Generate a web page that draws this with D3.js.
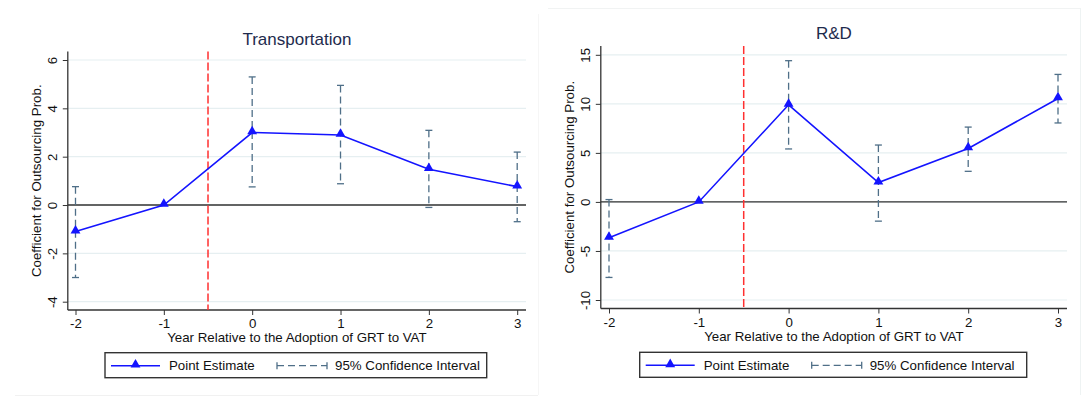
<!DOCTYPE html>
<html>
<head>
<meta charset="utf-8">
<script src="https://cdn.jsdelivr.net/npm/d3@7"></script>
<style>
  html, body { margin: 0; padding: 0; background: #fff; }
  svg { display: block; font-family: "Liberation Sans", Arial, sans-serif; }
</style>
</head>
<body>
<svg id="chart" width="1084" height="402"></svg>
<script>
// Event-study coefficients by year relative to the GRT-to-VAT adoption
const years = [-2, -1, 0, 1, 2, 3];

const transEstimate = [-1.1, 0, 3.0, 2.9, 1.48, 0.76];
const transLower    = [-3.0, null, 0.75, 0.88, -0.1, -0.69];
const transUpper    = [0.76, null, 5.3, 4.95, 3.09, 2.19];
const transTicks    = [-4, -2, 0, 2, 4, 6];

const rdEstimate = [-3.66, 0, 9.9, 1.97, 5.45, 10.55];
const rdLower    = [-7.7, null, 5.4, -1.96, 3.12, 8.05];
const rdUpper    = [0.24, null, 14.4, 5.8, 7.63, 13.0];
const rdTicks    = [-10, -5, 0, 5, 10, 15];

const xTitle = "Year Relative to the Adoption of GRT to VAT";
const yTitle = "Coefficient for Outsourcing Prob.";
const legendLabels = ["Point Estimate", "95% Confidence Interval"];

const svg = d3.select("#chart");

const COL_LINE = "#1414ff";
const COL_CI = "#4f6f88";
const COL_GRID = "#e6eff1";
const COL_AXIS = "#333";
const plain = d => String(d);

// faint outer frames of the two graph regions
svg.append("line").attr("x1", 15).attr("x2", 538).attr("y1", 395.5).attr("y2", 395.5)
  .attr("stroke", "#f1f1f1").attr("stroke-width", 1);
svg.append("line").attr("x1", 548).attr("x2", 1080).attr("y1", 8.5).attr("y2", 8.5)
  .attr("stroke", "#f1f3f3").attr("stroke-width", 1);
svg.append("line").attr("x1", 538.5).attr("x2", 538.5).attr("y1", 14).attr("y2", 395)
  .attr("stroke", "#f6f6f6").attr("stroke-width", 1);
svg.append("line").attr("x1", 1080.5).attr("x2", 1080.5).attr("y1", 8).attr("y2", 395)
  .attr("stroke", "#eef3f3").attr("stroke-width", 1);

function drawPanel(cfg) {
  const g = svg.append("g");
  const x = d3.scaleLinear().domain([-2, 3]).range([cfg.xl, cfg.xr]);
  const y = d3.scaleLinear().domain([cfg.ticks[0], cfg.ticks[cfg.ticks.length - 1]])
    .range([cfg.yb, cfg.yt]);
  const midX = (cfg.axisX + cfg.right) / 2;

  // horizontal gridlines
  g.selectAll(".grid").data(cfg.ticks).enter().append("line")
    .attr("x1", cfg.axisX).attr("x2", cfg.right)
    .attr("y1", d => y(d)).attr("y2", d => y(d))
    .attr("stroke", COL_GRID).attr("stroke-width", 1.2);

  // y axis
  const yAxis = d3.axisLeft(y).tickValues(cfg.ticks).tickFormat(plain).tickSize(5).tickPadding(4);
  const ya = g.append("g").attr("transform", `translate(${cfg.axisX},0)`).call(yAxis);
  ya.select(".domain").attr("d", `M0,${cfg.bottom}V${cfg.top}`).attr("stroke", COL_AXIS).attr("stroke-width", 1.3);
  ya.selectAll(".tick line").attr("stroke", COL_AXIS);
  ya.selectAll(".tick text")
    .attr("font-size", 13.3).attr("fill", "#111")
    .attr("text-anchor", "middle").attr("dy", 0)
    .attr("transform", "translate(-15,0) rotate(-90)")
    .attr("x", 0).attr("y", 0)
    .attr("dominant-baseline", "central");

  // x axis
  const xAxis = d3.axisBottom(x).tickValues(years).tickFormat(plain).tickSize(5).tickPadding(4);
  const xa = g.append("g").attr("transform", `translate(0,${cfg.bottom})`).call(xAxis);
  xa.select(".domain").attr("d", `M${cfg.axisX},0H${cfg.right}`).attr("stroke", COL_AXIS).attr("stroke-width", 1.3);
  xa.selectAll(".tick line").attr("stroke", COL_AXIS);
  xa.selectAll(".tick text").attr("font-size", 13.3).attr("fill", "#111");

  // zero reference line
  g.append("line").attr("x1", cfg.axisX).attr("x2", cfg.right)
    .attr("y1", y(0)).attr("y2", y(0))
    .attr("stroke", "#333").attr("stroke-width", 1.3);

  // adoption marker between years -1 and 0
  g.append("line").attr("x1", x(-0.5)).attr("x2", x(-0.5))
    .attr("y1", cfg.top).attr("y2", cfg.bottom)
    .attr("stroke", "#ff3030").attr("stroke-width", 1.5)
    .attr("stroke-dasharray", "8,3");

  // confidence intervals
  const ci = years.map((yr, i) => ({ yr, lo: cfg.lower[i], hi: cfg.upper[i] }))
    .filter(d => d.lo !== null);
  g.selectAll(".ci").data(ci).enter().append("line")
    .attr("x1", d => x(d.yr)).attr("x2", d => x(d.yr))
    .attr("y1", d => y(d.hi)).attr("y2", d => y(d.lo))
    .attr("stroke", COL_CI).attr("stroke-width", 1.3)
    .attr("stroke-dasharray", "7,4");
  ["lo", "hi"].forEach(k => {
    g.selectAll(".cap" + k).data(ci).enter().append("line")
      .attr("x1", d => x(d.yr) - 3.5).attr("x2", d => x(d.yr) + 3.5)
      .attr("y1", d => y(d[k])).attr("y2", d => y(d[k]))
      .attr("stroke", COL_CI).attr("stroke-width", 1.3);
  });

  // point estimates
  const pts = years.map((yr, i) => ({ yr, v: cfg.est[i] }));
  g.append("path").datum(pts)
    .attr("d", d3.line().x(d => x(d.yr)).y(d => y(d.v)))
    .attr("fill", "none").attr("stroke", COL_LINE).attr("stroke-width", 1.6);
  const tri = d3.symbol().type(d3.symbolTriangle).size(42);
  g.selectAll(".mk").data(pts).enter().append("path")
    .attr("d", tri)
    .attr("transform", d => `translate(${x(d.yr)},${y(d.v) - 1})`)
    .attr("fill", COL_LINE);

  // titles
  g.append("text").attr("x", midX).attr("y", cfg.titleY)
    .attr("text-anchor", "middle").attr("font-size", 17).attr("fill", "#1e2b4d")
    .text(cfg.title);
  g.append("text").attr("x", midX).attr("y", cfg.bottom + 32)
    .attr("text-anchor", "middle").attr("font-size", 13.3).attr("fill", "#111")
    .text(xTitle);
  g.append("text")
    .attr("transform", `translate(${cfg.yTitleX},${(cfg.top + cfg.bottom) / 2}) rotate(-90)`)
    .attr("text-anchor", "middle").attr("font-size", 13.3).attr("fill", "#111")
    .text(yTitle);

  // legend
  const L = cfg.legend;
  g.append("rect").attr("x", L.x).attr("y", L.y).attr("width", L.w).attr("height", 25)
    .attr("fill", "#fff").attr("stroke", "#333").attr("stroke-width", 1.4);
  const ly = L.y + 13;
  g.append("line").attr("x1", L.x + 6).attr("x2", L.x + 55).attr("y1", ly).attr("y2", ly)
    .attr("stroke", COL_LINE).attr("stroke-width", 1.6);
  g.append("path").attr("d", tri).attr("transform", `translate(${L.x + 30.5},${ly - 1})`)
    .attr("fill", COL_LINE);
  g.append("text").attr("x", L.x + 64).attr("y", ly + 4.5).attr("font-size", 13.3).attr("fill", "#111")
    .text(legendLabels[0]);
  const cx0 = L.x + 172, cx1 = L.x + 222;
  g.append("line").attr("x1", cx0).attr("x2", cx1).attr("y1", ly).attr("y2", ly)
    .attr("stroke", COL_CI).attr("stroke-width", 1.3).attr("stroke-dasharray", "7,4");
  [cx0, cx1].forEach(cx => g.append("line").attr("x1", cx).attr("x2", cx)
    .attr("y1", ly - 3.5).attr("y2", ly + 3.5).attr("stroke", COL_CI).attr("stroke-width", 1.3));
  g.append("text").attr("x", cx1 + 8).attr("y", ly + 4.5).attr("font-size", 13.3).attr("fill", "#111")
    .text(legendLabels[1]);
}

drawPanel({
  title: "Transportation", titleY: 45,
  est: transEstimate, lower: transLower, upper: transUpper, ticks: transTicks,
  xl: 75.5, xr: 517.2, yb: 301.7, yt: 60,
  axisX: 67.8, right: 526, top: 51.5, bottom: 310,
  yTitleX: 41,
  legend: { x: 105, y: 352.7, w: 381.7 }
});

drawPanel({
  title: "R&D", titleY: 39,
  est: rdEstimate, lower: rdLower, upper: rdUpper, ticks: rdTicks,
  xl: 609, xr: 1058, yb: 300, yt: 54.8,
  axisX: 600.8, right: 1067, top: 46, bottom: 308.5,
  yTitleX: 573.5,
  legend: { x: 639.7, y: 352.3, w: 387 }
});
</script>
</body>
</html>
